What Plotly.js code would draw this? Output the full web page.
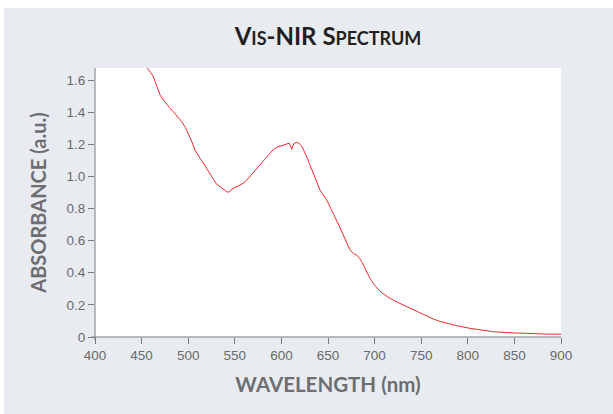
<!DOCTYPE html>
<html>
<head>
<meta charset="utf-8">
<script src="https://cdn.plot.ly/plotly-3.0.1.min.js"></script>
<style>
  html, body { margin: 0; padding: 0; background: #ffffff; }
  #chart { position: absolute; left: 4px; top: 8px; width: 609px; height: 406px; }
</style>
</head>
<body>
<div id="chart"></div>
<script>
// Wavelength (nm)
const wavelength = [455, 457, 460, 462.6, 465, 467.9, 470, 473.3, 476.9, 480, 484, 488, 493, 497, 500,
  504, 507.3, 510, 512.7, 516, 519.8, 523, 526.9, 530, 534.1, 538, 541.3, 543, 544.8, 546, 548.4,
  552, 555, 559.1, 563, 568, 573.5, 578, 583, 587.8, 591, 595, 600, 605.7, 608.5, 610, 611.1, 612.3,
  613.5, 616.4, 619, 621.8, 624.5, 627.1, 630, 634.2, 638, 641.4, 645, 648.6, 653, 657.5, 662, 666.4,
  670, 673.6, 677.2, 679, 681.5, 684, 686.2, 690, 695.1, 700, 705.8, 710, 716.5, 725, 734.4, 743,
  752.3, 763, 770, 777.4, 790, 802.4, 815, 827.4, 842, 856, 870, 885, 900];
// Absorbance (a.u.)
const absorbance = [1.69, 1.667, 1.645, 1.621, 1.583, 1.540, 1.505, 1.476, 1.447, 1.428, 1.403, 1.378, 1.341, 1.305, 1.268,
  1.215, 1.164, 1.135, 1.113, 1.085, 1.050, 1.015, 0.978, 0.955, 0.936, 0.918, 0.905, 0.902, 0.905, 0.918, 0.926,
  0.935, 0.945, 0.957, 0.978, 1.010, 1.050, 1.080, 1.112, 1.144, 1.165, 1.181, 1.193, 1.202, 1.206, 1.19, 1.169, 1.19,
  1.206, 1.212, 1.205, 1.189, 1.160, 1.123, 1.08, 1.019, 0.965, 0.915, 0.885, 0.853, 0.80, 0.749, 0.692, 0.635,
  0.588, 0.542, 0.521, 0.515, 0.506, 0.488, 0.469, 0.425, 0.365, 0.322, 0.285, 0.266, 0.241, 0.215, 0.189, 0.163,
  0.137, 0.112, 0.097, 0.085, 0.068, 0.054, 0.043, 0.033, 0.027, 0.023, 0.020, 0.018, 0.017];

const xTickVals = [400, 450, 500, 550, 600, 650, 700, 750, 800, 850, 900];
const xTickText = ["400", "450", "500", "550", "600", "650", "700", "750", "800", "850", "900"];
const yTickVals = [0, 0.2, 0.4, 0.6, 0.8, 1.0, 1.2, 1.4, 1.6];
const yTickText = ["0", "0.2", "0.4", "0.6", "0.8", "1.0", "1.2", "1.4", "1.6"];

const chartTitle = "V<span style='font-size:18px'>IS</span>-NIR S<span style='font-size:18px'>PECTRUM</span>";
const xTitle = "WAVELENGTH (nm)";
const yTitle = "ABSORBANCE (a.u.)";

const axisGray = "#7a7a7a";
const tickFont = {family: "Liberation Sans, Arial, sans-serif", size: 13.5, color: "#6a6a6a"};
const xTitleFont = {family: "Lato, Open Sans, sans-serif", size: 20.5, color: "#6d6e71", weight: 700};
const yTitleFont = {family: "Lato, Open Sans, sans-serif", size: 20, color: "#6d6e71", weight: 700};

const trace = {
  x: wavelength,
  y: absorbance,
  type: "scatter",
  mode: "lines",
  line: {color: "#ec2a2f", width: 1},
  hoverinfo: "skip"
};

const layout = {
  width: 609,
  height: 406,
  paper_bgcolor: "#e8ecf0",
  plot_bgcolor: "#ffffff",
  margin: {l: 91, r: 52, t: 60, b: 77},
  showlegend: false,
  title: {
    text: chartTitle,
    font: {family: "Lato, Open Sans, sans-serif", size: 24, color: "#231f20", weight: 700},
    xref: "paper", x: 0.5, xanchor: "center",
    yref: "container", y: 0.929, yanchor: "middle"
  },
  xaxis: {
    range: [400, 900],
    tickvals: xTickVals,
    ticktext: xTickText,
    ticks: "outside",
    ticklen: 6,
    tickwidth: 1,
    tickcolor: axisGray,
    tickfont: tickFont,
    showgrid: false,
    zeroline: false,
    showline: false,
    fixedrange: true,
    title: {text: xTitle, font: xTitleFont, standoff: 15}
  },
  yaxis: {
    range: [0, 1.675],
    tickvals: yTickVals,
    ticktext: yTickText,
    ticks: "outside",
    ticklen: 6,
    tickwidth: 1,
    tickcolor: axisGray,
    tickfont: tickFont,
    showgrid: false,
    zeroline: false,
    showline: false,
    fixedrange: true,
    title: {text: yTitle, font: yTitleFont, standoff: 14}
  },
  shapes: [
    {type: "line", xref: "paper", yref: "paper", x0: -0.007, x1: 1, y0: 0, y1: 0,
     line: {color: axisGray, width: 1}},
    {type: "line", xref: "paper", yref: "paper", x0: 0, x1: 0, y0: -0.012, y1: 1,
     line: {color: axisGray, width: 1}}
  ]
};

Plotly.newPlot("chart", [trace], layout, {displayModeBar: false, staticPlot: true});
</script>
</body>
</html>
